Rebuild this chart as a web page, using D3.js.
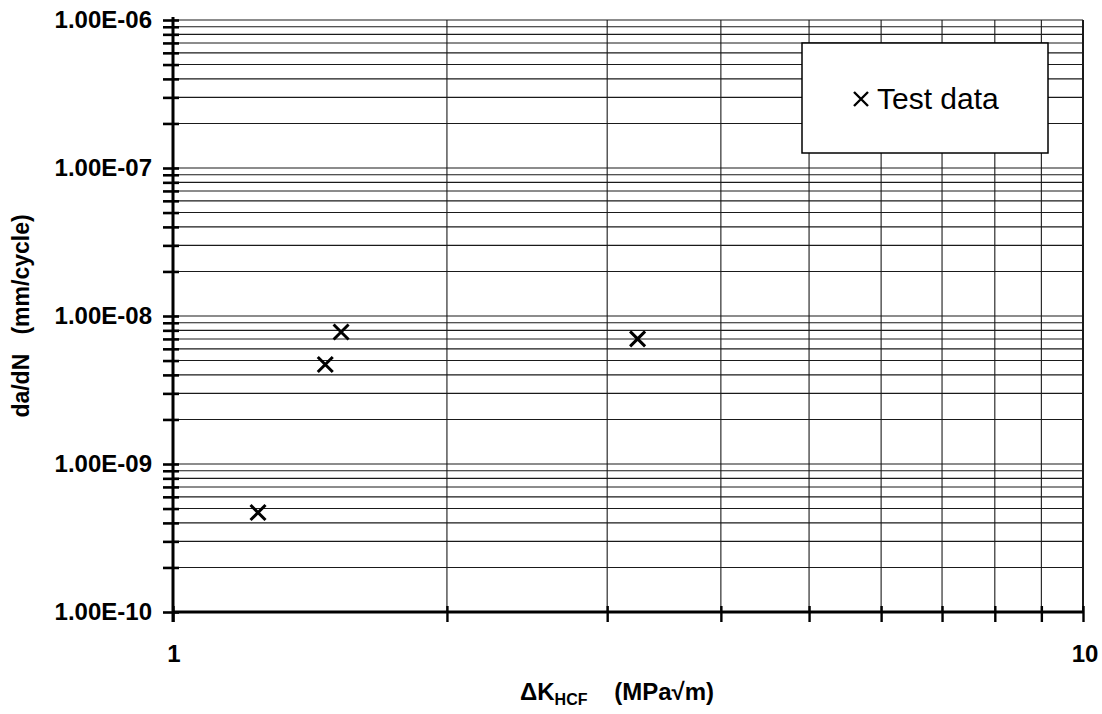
<!DOCTYPE html>
<html>
<head>
<meta charset="utf-8">
<script src="https://cdn.jsdelivr.net/npm/d3@7"></script>
<style>
  html, body { margin: 0; padding: 0; background: #fff; }
  svg { display: block; font-family: Arial, "Liberation Sans", sans-serif; }
</style>
</head>
<body>
<svg id="chart" width="1102" height="714"></svg>
<script>
// ---- data ----
const xDomain = [1, 10];
const yDomain = [1e-10, 1e-6];
const xTickValues = [1, 10];
const xTickLabels = ["1", "10"];
const yTickValues = [1e-10, 1e-9, 1e-8, 1e-7, 1e-6];
const yTickLabels = ["1.00E-10", "1.00E-09", "1.00E-08", "1.00E-07", "1.00E-06"];
const deltaK = [1.24, 1.47, 1.53, 3.24];
const dadN = [4.7e-10, 4.7e-9, 7.8e-9, 7.0e-9];
const seriesName = "Test data";
const xTitle = ["\u0394K", "HCF", "    (MPa\u221Am)"];
const yTitle = "da/dN   (mm/cycle)";

// ---- layout ----
const svg = d3.select("#chart");
const pL = 173, pR = 1083, pT = 20, pB = 612;
const x = d3.scaleLog().domain(xDomain).range([pL, pR]);
const y = d3.scaleLog().domain(yDomain).range([pB, pT]);

const yMinor = y.ticks();
const xMinor = x.ticks();

// horizontal grid lines
svg.append("g").selectAll("line").data(yMinor).join("line")
  .attr("x1", pL).attr("x2", pR)
  .attr("y1", d => y(d)).attr("y2", d => y(d))
  .attr("stroke", "#1a1a1a").attr("stroke-width", 1.1);

// vertical grid lines
svg.append("g").selectAll("line").data(xMinor).join("line")
  .attr("x1", d => x(d)).attr("x2", d => x(d))
  .attr("y1", pT).attr("y2", pB)
  .attr("stroke", "#1a1a1a").attr("stroke-width", d => d === 10 ? 2 : 1.1);

// left axis (ticks crossing)
const yAxis = svg.append("g").attr("transform", `translate(${pL},0)`)
  .call(d3.axisLeft(y).tickValues(yMinor).tickSize(10).tickFormat(""));
yAxis.select(".domain").attr("stroke", "#000").attr("stroke-width", 3)
  .attr("d", `M0,${pT - 3}V${pB + 10}`);
yAxis.selectAll(".tick line").attr("x1", 6).attr("stroke", "#000").attr("stroke-width", 2.6);

// bottom axis (ticks crossing)
const xAxis = svg.append("g").attr("transform", `translate(0,${pB})`)
  .call(d3.axisBottom(x).tickValues(xMinor).tickSize(10).tickFormat(""));
xAxis.select(".domain").attr("stroke", "#000").attr("stroke-width", 3)
  .attr("d", `M${pL},0H${pR + 1}`);
xAxis.selectAll(".tick line").attr("y1", -6).attr("stroke", "#000").attr("stroke-width", 2.4);

// y tick labels
svg.append("g").selectAll("text").data(yTickValues).join("text")
  .attr("x", 152).attr("y", d => y(d))
  .attr("dy", "0.34em")
  .attr("text-anchor", "end")
  .attr("font-weight", "bold").attr("font-size", 24)
  .text((d, i) => yTickLabels[i]);

// x tick labels
svg.append("g").selectAll("text").data(xTickValues).join("text")
  .attr("x", d => x(d) + (d === 10 ? 2 : 1)).attr("y", 662)
  .attr("text-anchor", "middle")
  .attr("font-weight", "bold").attr("font-size", 24)
  .text((d, i) => xTickLabels[i]);

// x title
const xt = svg.append("text").attr("x", 617).attr("y", 700)
  .attr("text-anchor", "middle").attr("font-weight", "bold").attr("font-size", 24)
  .style("white-space", "pre");
xt.append("tspan").text(xTitle[0]);
xt.append("tspan").attr("font-size", 16).attr("dy", 5).text(xTitle[1]);
xt.append("tspan").attr("dy", -5).text(xTitle[2]);

// y title
svg.append("text")
  .attr("transform", `translate(29,${(pT + pB) / 2}) rotate(-90)`)
  .attr("text-anchor", "middle").attr("font-weight", "bold").attr("font-size", 23)
  .style("white-space", "pre")
  .text(yTitle);

// markers
const xMark = s => `M${-s},${-s}L${s},${s}M${-s},${s}L${s},${-s}`;
svg.append("g").selectAll("path").data(deltaK).join("path")
  .attr("transform", (d, i) => `translate(${x(d)},${y(dadN[i])})`)
  .attr("d", xMark(7.5))
  .attr("stroke", "#000").attr("stroke-width", 3).attr("fill", "none");

// legend
const lg = svg.append("g");
lg.append("rect").attr("x", 802).attr("y", 43).attr("width", 246).attr("height", 110)
  .attr("fill", "#fff").attr("stroke", "#000").attr("stroke-width", 1.5);
lg.append("path").attr("transform", "translate(861,99)").attr("d", xMark(7))
  .attr("stroke", "#000").attr("stroke-width", 2.4).attr("fill", "none");
lg.append("text").attr("x", 877).attr("y", 109).attr("font-size", 30)
  .text(seriesName);
</script>
</body>
</html>
